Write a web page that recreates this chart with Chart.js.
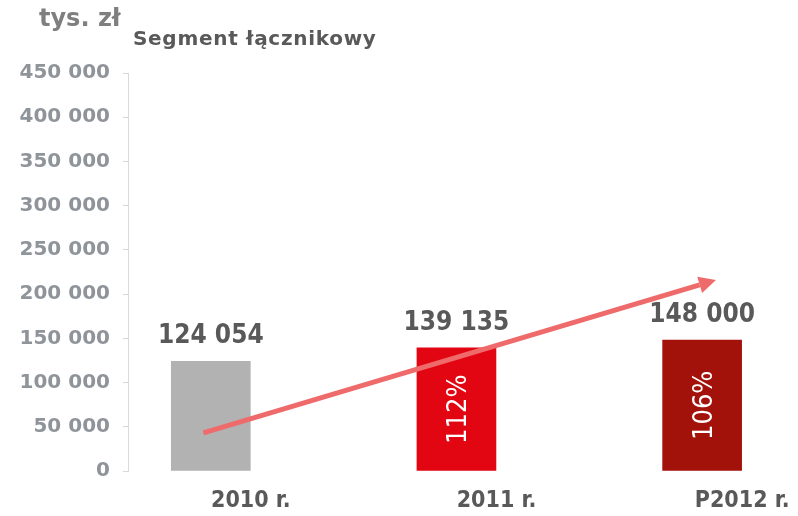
<!DOCTYPE html>
<html lang="pl">
<head>
<meta charset="utf-8">
<title>Segment łącznikowy</title>
<script src="https://cdn.jsdelivr.net/npm/chart.js@4.4.1/dist/chart.umd.min.js"></script>
<style>
  html, body { margin: 0; padding: 0; background: #fff; overflow: hidden; }
  #wrap { position: relative; width: 798px; height: 516px; overflow: hidden; }
  #chartBox { position: absolute; left: 0; top: 0; }
  .unit {
    position: absolute; left: 39px; top: 6px;
    font: bold 24px/24px 'DejaVu Sans', sans-serif; color: #7f7f7f;
  }
  .title {
    position: absolute; left: 133px; top: 28px; letter-spacing: 0.7px;
    font: bold 20px/20px 'DejaVu Sans', sans-serif; color: #595959;
  }
</style>
</head>
<body>
<div id="wrap">
  <canvas id="chartBox" width="865" height="516"></canvas>
  <div class="unit">tys. zł</div>
  <div class="title">Segment łącznikowy</div>
</div>
<script>
// data
const categories = ["2010 r.", "2011 r.", "P2012 r."];
const values = [124054, 139135, 148000];
const growthLabels = ["", "112%", "106%"];
const barColors = ["#b2b2b2", "#e20613", "#a3110b"];

// trend arrow: start / end of the shaft, in bar-index units
const trendX = [-0.03, 1.99];
const trendY = [43000, 210400];

const yMax = 450000;
const yStep = 50000;

const condensed = "'DejaVu Sans Condensed', 'DejaVu Sans', sans-serif";

// 124054 -> "124 054"
const fmt = (v) => String(v).replace(/\B(?=(\d{3})+(?!\d))/g, " ");

const barLabels = {
  id: "barLabels",
  afterDatasetsDraw(chart) {
    const ctx = chart.ctx;
    const meta = chart.getDatasetMeta(0);
    ctx.save();
    meta.data.forEach((bar, i) => {
      ctx.font = "bold 26px " + condensed;
      ctx.fillStyle = "#595959";
      ctx.textAlign = "center";
      ctx.textBaseline = "alphabetic";
      ctx.fillText(fmt(values[i]), bar.x, bar.y - 18);

      if (growthLabels[i]) {
        ctx.save();
        ctx.translate(bar.x + 3, (bar.y + bar.base) / 2);
        ctx.rotate(-Math.PI / 2);
        ctx.font = "27px " + condensed;
        ctx.fillStyle = "#ffffff";
        ctx.textBaseline = "middle";
        ctx.fillText(growthLabels[i], 0, 0);
        ctx.restore();
      }
    });

    // arrow head at the end of the trend line
    const pts = chart.getDatasetMeta(1).data;
    const a = pts[0], b = pts[pts.length - 1];
    const dx = b.x - a.x, dy = b.y - a.y;
    const len = Math.sqrt(dx * dx + dy * dy);
    const ux = dx / len, uy = dy / len;
    const tipX = b.x + ux * 17, tipY = b.y + uy * 17;
    ctx.beginPath();
    ctx.moveTo(tipX, tipY);
    ctx.lineTo(b.x - uy * 8.5, b.y + ux * 8.5);
    ctx.lineTo(b.x + uy * 8.5, b.y - ux * 8.5);
    ctx.closePath();
    ctx.fillStyle = "#ef6b6b";
    ctx.fill();
    ctx.restore();
  },
};

const ctx = document.getElementById("chartBox");

const chart = new Chart(ctx, {
  type: "bar",
  data: {
    labels: categories,
    datasets: [
      {
        label: "tys. zł",
        xAxisID: "xi",
        data: values.map((v, i) => ({ x: i, y: v })),
        backgroundColor: barColors,
        barThickness: 79,
        order: 1,
      },
      {
        type: "line",
        label: "trend",
        xAxisID: "xi",
        data: trendX.map((x, i) => ({ x: x, y: trendY[i] })),
        borderColor: "#ef6b6b",
        borderWidth: 5,
        pointRadius: 0,
        fill: false,
        order: 0,
      },
    ],
  },
  options: {
    responsive: false,
    animation: false,
    layout: { padding: { top: 73, left: 0, right: 0, bottom: 0 } },
    plugins: {
      legend: { display: false },
      tooltip: { enabled: false },
    },
    scales: {
      // category labels
      x: {
        offset: true,
        afterFit: (scale) => {
          scale.height = 45;
        },
        grid: { display: false, drawTicks: false },
        border: { display: false },
        ticks: {
          padding: 16,
          color: "#595959",
          font: { family: condensed, size: 23, weight: "bold" },
        },
      },
      // hidden index axis for the bars: they sit left of their labels
      xi: {
        type: "linear",
        display: false,
        offset: false,
        min: -0.337,
        max: 2.663,
      },
      y: {
        min: 0,
        max: yMax,
        afterFit: (scale) => {
          scale.width = 128;
        },
        grid: {
          drawOnChartArea: false,
          drawTicks: true,
          tickLength: 5,
          color: "#d9d9d9",
        },
        border: { display: true, color: "#d9d9d9" },
        ticks: {
          stepSize: yStep,
          padding: 13,
          color: "#8f949a",
          font: { family: "'DejaVu Sans', sans-serif", size: 20, weight: "bold" },
          callback: (v) => fmt(v),
        },
      },
    },
  },
  plugins: [barLabels],
});
</script>
</body>
</html>
